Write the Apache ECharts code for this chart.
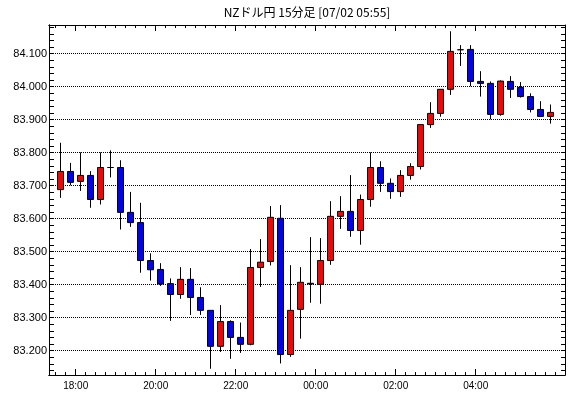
<!DOCTYPE html>
<html>
<head>
<meta charset="utf-8">
<title>NZドル円 15分足</title>
<script src="https://cdn.jsdelivr.net/npm/echarts@6/dist/echarts.min.js"></script>
<style>
  html, body { margin: 0; padding: 0; background: #fff; }
  #chart { width: 570px; height: 398px; }
</style>
</head>
<body>
<div id="chart"></div>
<script>
// NZD/JPY 15-minute candles, 17:30 -> 05:45 (last bar still forming at 05:55)

const candleTimes = [
  "17:30", "17:45", "18:00", "18:15", "18:30", "18:45", "19:00", "19:15", "19:30", "19:45",
  "20:00", "20:15", "20:30", "20:45", "21:00", "21:15", "21:30", "21:45", "22:00", "22:15",
  "22:30", "22:45", "23:00", "23:15", "23:30", "23:45", "00:00", "00:15", "00:30", "00:45",
  "01:00", "01:15", "01:30", "01:45", "02:00", "02:15", "02:30", "02:45", "03:00", "03:15",
  "03:30", "03:45", "04:00", "04:15", "04:30", "04:45", "05:00", "05:15", "05:30", "05:45",
];

const opens = [
  83.688, 83.743, 83.713, 83.731, 83.658, 83.755, 83.755, 83.619, 83.588, 83.473,
  83.446, 83.403, 83.370, 83.416, 83.361, 83.322, 83.213, 83.288, 83.240, 83.219,
  83.452, 83.470, 83.601, 83.188, 83.325, 83.402, 83.401, 83.473, 83.607, 83.622,
  83.564, 83.658, 83.755, 83.707, 83.682, 83.731, 83.758, 83.885, 83.919, 83.992,
  84.112, 84.113, 84.016, 84.010, 83.916, 84.016, 83.998, 83.970, 83.931, 83.910,
];
const closes = [
  83.743, 83.710, 83.731, 83.658, 83.755, 83.755, 83.619, 83.588, 83.473, 83.445,
  83.402, 83.370, 83.416, 83.361, 83.322, 83.213, 83.288, 83.240, 83.219, 83.452,
  83.468, 83.604, 83.188, 83.322, 83.407, 83.404, 83.473, 83.607, 83.622, 83.564,
  83.658, 83.755, 83.707, 83.682, 83.731, 83.758, 83.885, 83.919, 83.992, 84.107,
  84.112, 84.016, 84.010, 83.916, 84.017, 83.992, 83.970, 83.931, 83.910, 83.922,
];
const lows = [
  83.663, 83.701, 83.684, 83.633, 83.643, 83.725, 83.567, 83.575, 83.436, 83.412,
  83.396, 83.290, 83.357, 83.308, 83.308, 83.145, 83.196, 83.175, 83.193, 83.216,
  83.393, 83.458, 83.161, 83.181, 83.236, 83.345, 83.342, 83.460, 83.569, 83.545,
  83.521, 83.636, 83.681, 83.660, 83.666, 83.718, 83.749, 83.875, 83.909, 83.975,
  84.063, 84.001, 83.970, 83.901, 83.912, 83.966, 83.967, 83.922, 83.910, 83.888,
];
const highs = [
  83.830, 83.769, 83.801, 83.744, 83.801, 83.807, 83.777, 83.681, 83.648, 83.495,
  83.465, 83.419, 83.453, 83.450, 83.392, 83.323, 83.338, 83.292, 83.285, 83.508,
  83.538, 83.638, 83.641, 83.459, 83.453, 83.544, 83.541, 83.653, 83.668, 83.732,
  83.673, 83.801, 83.774, 83.722, 83.747, 83.768, 83.885, 83.953, 83.992, 84.168,
  84.126, 84.126, 84.047, 84.016, 84.019, 84.032, 84.014, 83.980, 83.956, 83.946,
];

// axis labels
const timeLabels = ["18:00", "20:00", "22:00", "00:00", "02:00", "04:00"];
const priceTicks = [83.2, 83.3, 83.4, 83.5, 83.6, 83.7, 83.8, 83.9, 84.0, 84.1];

// x runs in 15-minute slots counted from 18:00
const toSlot = (t) => {
  const [h, m] = t.split(":").map(Number);
  let min = h * 60 + m;
  if (h < 12) min += 1440;
  return (min - 1080) / 15;
};
const majorSlots = timeLabels.map(toSlot);
const minorSlots = [];
for (let s = -2; s <= 48; s++) minorSlots.push(s);
const minorPrices = [];
for (let p = 83140; p <= 84180; p += 20) minorPrices.push(p / 1000);

const X_MIN = -2.67, X_MAX = 48.93;
const Y_MIN = 83.126, Y_MAX = 84.187;

const candles = candleTimes.map((t, i) => [toSlot(t) + 0.5, opens[i], closes[i], lows[i], highs[i]]);

const black = "#000";
const tickAxisX = (pos, values, len, labels) => ({
  type: "value", min: X_MIN, max: X_MAX, position: pos,
  axisLine: { show: true, onZero: false, lineStyle: { color: black, width: 1 } },
  splitLine: { show: false },
  axisTick: { show: true, inside: true, length: len, customValues: values, lineStyle: { color: black } },
  axisLabel: labels
    ? { customValues: majorSlots, formatter: (v) => timeLabels[majorSlots.indexOf(v)] || "",
        color: black, fontSize: 10, fontFamily: "Liberation Sans", margin: 6 }
    : { show: false },
});
const tickAxisY = (pos, len) => ({
  type: "value", min: Y_MIN, max: Y_MAX, position: pos,
  axisLine: { show: true, onZero: false, lineStyle: { color: black, width: 1 } },
  splitLine: { show: false },
  axisTick: { show: true, inside: true, length: len, customValues: minorPrices, lineStyle: { color: black } },
  axisLabel: { show: false },
});

const chart = echarts.init(document.getElementById("chart"), null, { renderer: "canvas" });
chart.setOption({
  animation: false,
  backgroundColor: "#fff",
  title: {
    text: "NZドル円 15分足 [07/02 05:55]",
    left: 307, top: 6, padding: 0, textAlign: "center",
    textStyle: { fontSize: 12, fontWeight: "normal", color: black, fontFamily: "Noto Sans CJK JP" },
  },
  grid: { left: 49, right: 5, top: 25, bottom: 23, containLabel: false },
  xAxis: [
    tickAxisX("bottom", minorSlots, 3, false),
    tickAxisX("bottom", majorSlots, 6, true),
    tickAxisX("top", minorSlots, 3, false),
    tickAxisX("top", majorSlots, 6, false),
  ],
  yAxis: [
    {
      type: "value", min: Y_MIN, max: Y_MAX, position: "left",
      axisLine: { show: true, onZero: false, lineStyle: { color: black, width: 1 } },
      axisTick: { show: false, customValues: priceTicks },
      splitLine: { show: true, lineStyle: { color: black, width: 1, type: [1, 1] } },
      axisLabel: { customValues: priceTicks, formatter: (v) => v.toFixed(3),
        color: black, fontSize: 11, fontFamily: "Liberation Sans", margin: 2 },
    },
    tickAxisY("left", 5),
    tickAxisY("right", 4),
  ],
  series: [{
    type: "candlestick", xAxisIndex: 0, yAxisIndex: 0,
    barWidth: 6,
    data: candles,
    itemStyle: {
      color: "#ff0000", color0: "#0000ff",
      borderColor: black, borderColor0: black, borderColorDoji: black, borderWidth: 1,
    },
  }],
});
</script>
</body>
</html>
